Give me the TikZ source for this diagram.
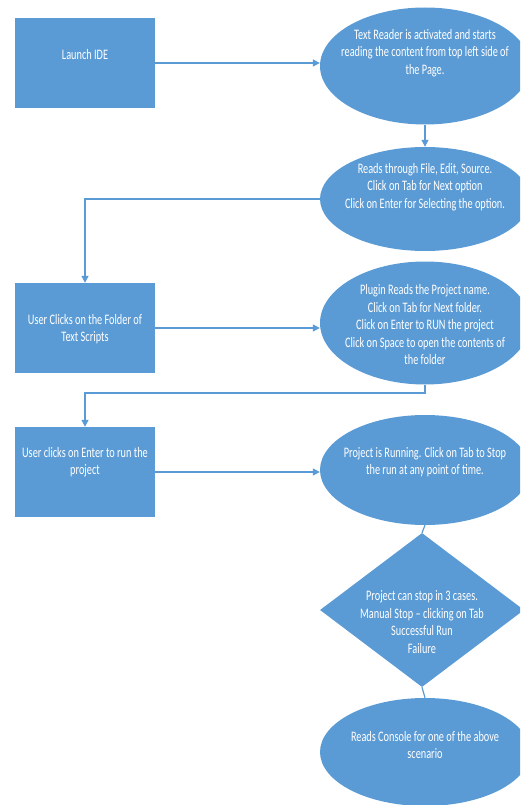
\documentclass[tikz,border=0pt]{standalone}
\usepackage{fontspec}
\setmainfont[FakeStretch=0.71]{Carlito}
\usetikzlibrary{shapes.geometric,arrows.meta}
\definecolor{boxblue}{RGB}{91,155,213}
\begin{document}
\begin{tikzpicture}[x=1pt,y=-1pt,
  shapebox/.style={draw=none,fill=boxblue,inner sep=0pt},
  rectbox/.style={shapebox,rectangle,minimum width=140pt,minimum height=90pt},
  ellbox/.style={shapebox,ellipse,minimum width=210pt},
  diabox/.style={shapebox,diamond,minimum width=204pt,minimum height=154pt},
  labeltext/.style={text=white,align=center,inner sep=0pt,font=\fontsize{14.5}{17.5}\selectfont},
  conn/.style={draw=boxblue,line width=1.2pt},
  arr/.style={conn,-{Triangle[length=7pt,width=7pt]}}]
\useasboundingbox (0,0) rectangle (520,805);
\clip (0,0) rectangle (520,805);

% shapes
\node[rectbox] (r1) at (85,63) {};
\node[ellbox,minimum height=117pt] (e1) at (425,66) {};
\node[ellbox,minimum height=104pt] (e2) at (425,199) {};
\node[rectbox] (r2) at (85,328) {};
\node[ellbox,minimum height=123pt] (e3) at (425,323) {};
\node[rectbox] (r3) at (85,472) {};
\node[ellbox,minimum height=110pt] (e4) at (425,470) {};
\node[diabox] (d1) at (422,610) {};
\node[ellbox,minimum height=108pt] (e5) at (425,752) {};

% texts
\node[labeltext] (t1) at (85,55) {Launch IDE};
\node[labeltext] (t2) at (425,53) {Text Reader is activated and starts\\reading the content from top left side of\\the Page.};
\node[labeltext] (t3) at (425,187) {Reads through File, Edit, Source.\\Click on Tab for Next option\\Click on Enter for Selecting the option.};
\node[labeltext] (t4) at (85,329) {User Clicks on the Folder of\\Text Scripts};
\node[labeltext] (t5) at (425,325) {Plugin Reads the Project name.\\Click on Tab for Next folder.\\Click on Enter to RUN the project\\Click on Space to open the contents of\\the folder};
\node[labeltext] (t6) at (85,462) {User clicks on Enter to run the\\project};
\node[labeltext] (t7) at (425,462) {Project is Running. Click on Tab to Stop\\the run at any point of time.};
\node[labeltext] (t8) at (422,622) {Project can stop in 3 cases.\\Manual Stop -- clicking on Tab\\Successful Run\\Failure};
\node[labeltext] (t9) at (425,745) {Reads Console for one of the above\\scenario};

% connectors
\coordinate (k1) at (425,393);
\draw[arr] (r1.east) -- (r1.east -| e1.west);
\draw[arr] (e1.south) -- (e2.north);
\draw[arr] (e2.west) -| (r2.north);
\draw[arr] (r2.east) -- (r2.east -| e3.west);
\draw[arr] (e3.south) -- (k1) -| (r3.north);
\draw[arr] (r3.east) -- (r3.east -| e4.west);
\draw[conn] (e4.south) -- (d1.north);
\draw[conn] (d1.south) -- (e5.north);
\end{tikzpicture}
\end{document}
